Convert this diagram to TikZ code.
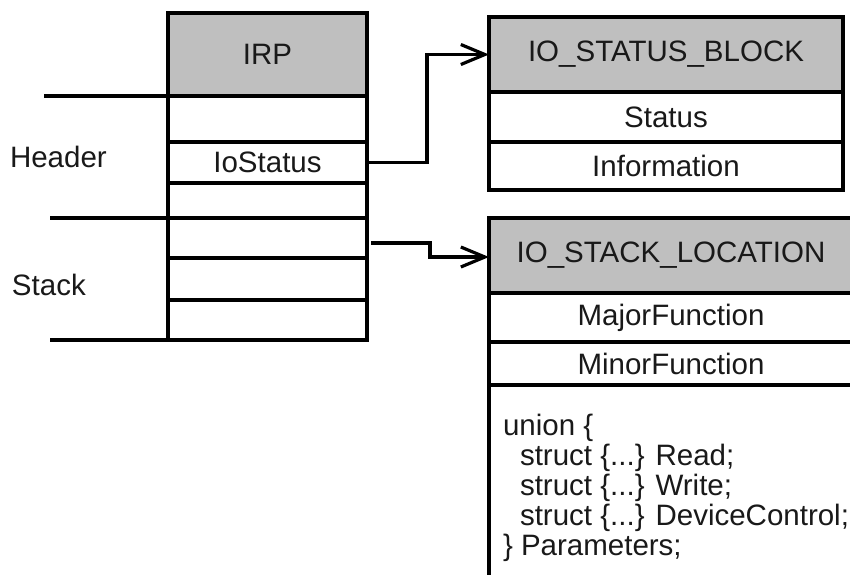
\documentclass[tikz,border=0pt]{standalone}
\usepackage{fontspec}
\setmainfont{Liberation Sans}
\usetikzlibrary{arrows.meta,calc}
\newcommand\cellfont{\fontsize{29.5}{30}\selectfont}
\begin{document}
\begin{tikzpicture}[x=1pt,y=-1pt,
  cell/.style={draw=black,line width=3.2pt,inner sep=0pt,outer sep=0pt,font=\cellfont,text=black!90},
  headcell/.style={cell,fill=black!25},
  label/.style={inner sep=0pt,outer sep=0pt,font=\cellfont,text=black!90},
  link/.style={line width=3.2pt,-{Straight Barb[length=24pt,width=20pt]}},
  rule/.style={line width=3.2pt}]
\useasboundingbox (0,0) rectangle (850,574);

% IRP structure
\node[headcell,minimum width=199,minimum height=83] (irp) at (267.5,54.5) {IRP};
\node[cell,minimum width=199,minimum height=46] (r1) at (267.5,119) {};
\node[cell,minimum width=199,minimum height=41] (iost) at (267.5,162.5) {IoStatus};
\node[cell,minimum width=199,minimum height=35] (r3) at (267.5,200.5) {};
\node[cell,minimum width=199,minimum height=40] (r4) at (267.5,238) {};
\node[cell,minimum width=199,minimum height=42] (r5) at (267.5,279) {};
\node[cell,minimum width=199,minimum height=40] (r6) at (267.5,320) {};

% section markers on the left
\coordinate (hdtop) at (44,96);
\coordinate (sttop) at (50,218);
\coordinate (stbot) at (50,340);
\draw[rule] (hdtop) -- (irp.south west);
\draw[rule] (sttop) -- (r4.north west);
\draw[rule] (stbot) -- (r6.south west);
\node[label,anchor=base west] (hdr) at (10,167) {Header};
\node[label,anchor=base west] (stk) at (12,295) {Stack};

% IO_STATUS_BLOCK
\node[headcell,minimum width=354,minimum height=75] (sb) at (666,54.5) {IO\_STATUS\_BLOCK};
\node[cell,minimum width=354,minimum height=50] (sbs) at (666,117) {Status};
\node[cell,minimum width=354,minimum height=48] (sbi) at (666,166) {Information};

% IO_STACK_LOCATION
\node[headcell,minimum width=364,minimum height=75] (sl) at (671,255.5) {IO\_STACK\_LOCATION};
\node[cell,minimum width=364,minimum height=49] (slmaj) at (671,317.5) {MajorFunction};
\node[cell,minimum width=364,minimum height=43] (slmin) at (671,363.5) {MinorFunction};
\node[cell,minimum width=364,minimum height=215] (slpar) at (671,492.5) {};
\node[label,anchor=north west,align=left] (partext) at (503,414) {union \{\\
\hspace*{17pt}struct \{...\} Read;\\
\hspace*{17pt}struct \{...\} Write;\\
\hspace*{17pt}struct \{...\} DeviceControl;\\
\} Parameters;};

% pointers
\draw[link] (iost.east) -- ++(60,0) |- (sb.west);
\coordinate (stkptr) at ($(r4.east)+(4,5)$);
\draw[link] (stkptr) -- ++(59,0) |- ($(sl.west)+(0,1.5)$);
\end{tikzpicture}
\end{document}
